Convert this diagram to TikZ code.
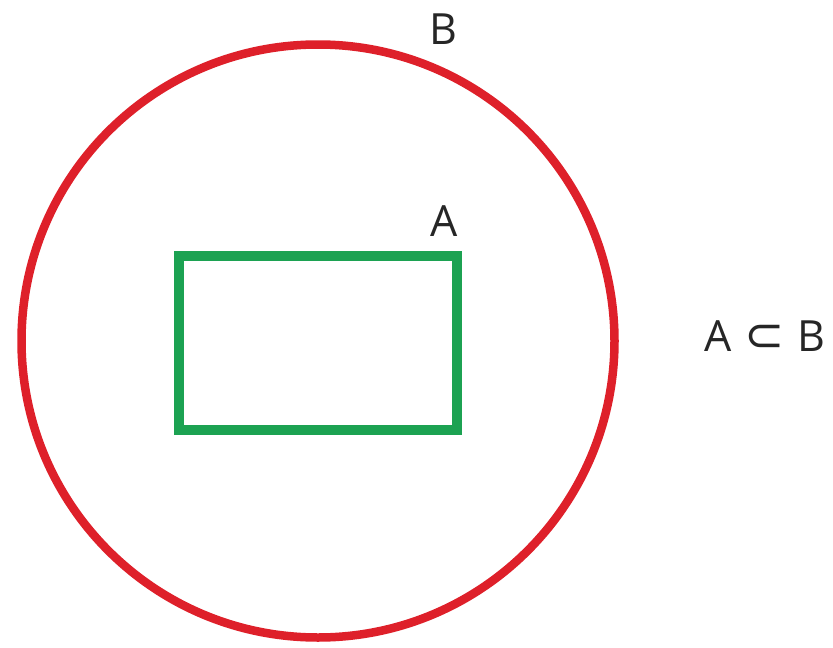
\documentclass[tikz,border=0pt]{standalone}
\usepackage{fontspec}
\setmainfont{Open Sans}
\newfontfamily\symfont{DejaVu Sans}
\definecolor{cred}{RGB}{222,32,42}
\definecolor{cgreen}{RGB}{28,162,82}
\begin{document}
\begin{tikzpicture}[x=1pt,y=-1pt,
  lbl/.style={font=\fontsize{43}{43}\selectfont, text=black!85, inner sep=0pt}]
\useasboundingbox (0,0) rectangle (833,648);
\node[draw=cred, line width=8.5pt, circle, minimum size=593pt, inner sep=0pt] (B) at (318,341) {};
\node[draw=cgreen, line width=10pt, rectangle, minimum width=278pt, minimum height=174pt, inner sep=0pt] (A) at (318,342.5) {};
\node[lbl] (lB) at (443,29) {B};
\node[lbl] (lA) at (444,221) {A};
\node[lbl] (rel) at (765,336) {A\hspace{13pt}{\symfont\fontsize{48}{48}\selectfont ⊂}\hspace{13pt}B};
\end{tikzpicture}
\end{document}
